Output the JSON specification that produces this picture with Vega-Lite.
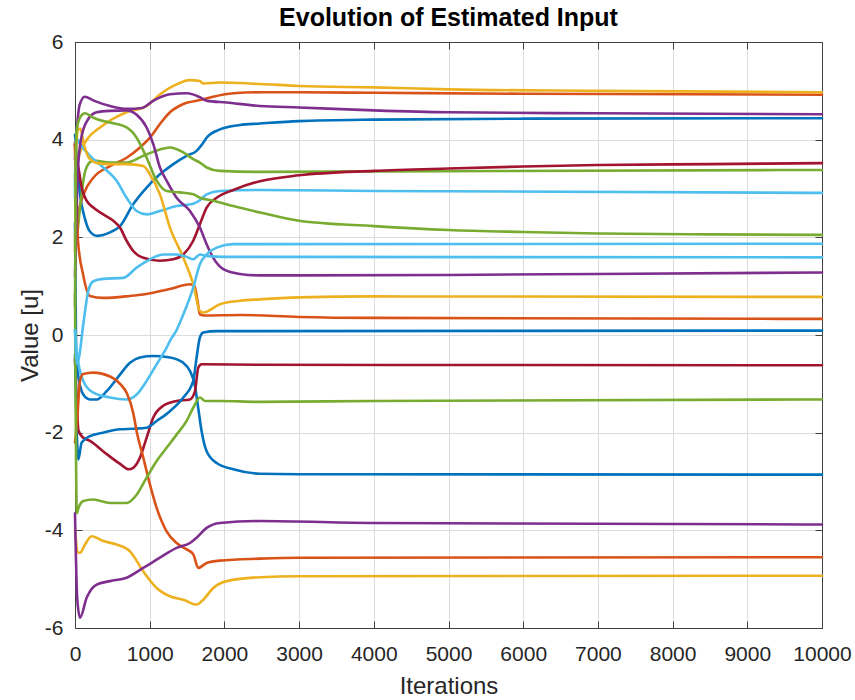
{
"$schema": "https://vega.github.io/schema/vega-lite/v6.json",
"width": 747, "height": 586,
"autosize": {"type": "none"},
"padding": {"left": 75, "top": 42, "right": 33, "bottom": 72},
"background": "white",
"title": {"text": "Evolution of Estimated Input", "fontSize": 25, "fontWeight": "bold", "font": "Liberation Sans", "color": "black", "anchor": "middle", "baseline": "alphabetic", "offset": -20},
"config": {
  "view": {"stroke": null},
  "axis": {"labelFont": "Liberation Sans", "titleFont": "Liberation Sans", "labelFontSize": 21, "titleFontSize": 24, "titleFontWeight": "normal", "labelColor": "#262626", "titleColor": "#262626", "domainColor": "#404040", "domainWidth": 1, "tickColor": "#404040", "tickWidth": 1, "gridColor": "#dcdcdc", "gridWidth": 1}
},
"data": {"values": [
{"s":"s01","x":0,"y":4.1},{"s":"s01","x":30,"y":3.5},{"s":"s01","x":70,"y":2.85},{"s":"s01","x":130,"y":2.4},{"s":"s01","x":200,"y":2.12},{"s":"s01","x":300,"y":2.03},{"s":"s01","x":468,"y":2.1},{"s":"s01","x":602,"y":2.23},{"s":"s01","x":780,"y":2.68},{"s":"s01","x":959,"y":3.02},{"s":"s01","x":1137,"y":3.29},{"s":"s01","x":1316,"y":3.5},{"s":"s01","x":1494,"y":3.67},{"s":"s01","x":1628,"y":3.77},{"s":"s01","x":1700,"y":3.9},{"s":"s01","x":1762,"y":4.04},{"s":"s01","x":1940,"y":4.21},{"s":"s01","x":2208,"y":4.3},{"s":"s01","x":2475,"y":4.33},{"s":"s01","x":3000,"y":4.38},{"s":"s01","x":4000,"y":4.41},{"s":"s01","x":6000,"y":4.43},{"s":"s01","x":10000,"y":4.44},
{"s":"s02","x":0,"y":3.95},{"s":"s02","x":20,"y":2.2},{"s":"s02","x":60,"y":2.6},{"s":"s02","x":134,"y":2.95},{"s":"s02","x":245,"y":3.22},{"s":"s02","x":468,"y":3.46},{"s":"s02","x":691,"y":3.63},{"s":"s02","x":870,"y":3.84},{"s":"s02","x":1003,"y":4.04},{"s":"s02","x":1137,"y":4.32},{"s":"s02","x":1271,"y":4.56},{"s":"s02","x":1450,"y":4.73},{"s":"s02","x":1672,"y":4.81},{"s":"s02","x":1851,"y":4.88},{"s":"s02","x":2119,"y":4.95},{"s":"s02","x":2475,"y":4.97},{"s":"s02","x":3000,"y":4.97},{"s":"s02","x":4000,"y":4.96},{"s":"s02","x":6000,"y":4.94},{"s":"s02","x":10000,"y":4.92},
{"s":"s03","x":0,"y":3.8},{"s":"s03","x":30,"y":3.6},{"s":"s03","x":80,"y":3.8},{"s":"s03","x":178,"y":4.04},{"s":"s03","x":335,"y":4.25},{"s":"s03","x":500,"y":4.42},{"s":"s03","x":690,"y":4.56},{"s":"s03","x":960,"y":4.69},{"s":"s03","x":1140,"y":4.93},{"s":"s03","x":1315,"y":5.1},{"s":"s03","x":1540,"y":5.22},{"s":"s03","x":1670,"y":5.2},{"s":"s03","x":1717,"y":5.15},{"s":"s03","x":1940,"y":5.17},{"s":"s03","x":2475,"y":5.14},{"s":"s03","x":3000,"y":5.1},{"s":"s03","x":4000,"y":5.07},{"s":"s03","x":5000,"y":5.03},{"s":"s03","x":7000,"y":5.0},{"s":"s03","x":10000,"y":4.97},
{"s":"s04","x":0,"y":3.6},{"s":"s04","x":30,"y":4.3},{"s":"s04","x":60,"y":4.7},{"s":"s04","x":130,"y":4.88},{"s":"s04","x":250,"y":4.8},{"s":"s04","x":470,"y":4.69},{"s":"s04","x":700,"y":4.63},{"s":"s04","x":900,"y":4.65},{"s":"s04","x":1050,"y":4.8},{"s":"s04","x":1270,"y":4.93},{"s":"s04","x":1500,"y":4.95},{"s":"s04","x":1670,"y":4.87},{"s":"s04","x":1760,"y":4.8},{"s":"s04","x":2030,"y":4.76},{"s":"s04","x":2475,"y":4.69},{"s":"s04","x":3000,"y":4.66},{"s":"s04","x":4000,"y":4.6},{"s":"s04","x":5000,"y":4.56},{"s":"s04","x":7000,"y":4.54},{"s":"s04","x":10000,"y":4.52},
{"s":"s05","x":0,"y":3.3},{"s":"s05","x":20,"y":2.0},{"s":"s05","x":60,"y":2.5},{"s":"s05","x":111,"y":3.16},{"s":"s05","x":178,"y":3.5},{"s":"s05","x":245,"y":3.57},{"s":"s05","x":468,"y":3.53},{"s":"s05","x":691,"y":3.53},{"s":"s05","x":914,"y":3.67},{"s":"s05","x":1137,"y":3.8},{"s":"s05","x":1271,"y":3.84},{"s":"s05","x":1450,"y":3.74},{"s":"s05","x":1583,"y":3.6},{"s":"s05","x":1672,"y":3.53},{"s":"s05","x":1762,"y":3.43},{"s":"s05","x":1940,"y":3.36},{"s":"s05","x":2475,"y":3.34},{"s":"s05","x":4000,"y":3.35},{"s":"s05","x":10000,"y":3.38},
{"s":"s06","x":0,"y":2.8},{"s":"s06","x":10,"y":4.05},{"s":"s06","x":67,"y":3.91},{"s":"s06","x":200,"y":3.67},{"s":"s06","x":379,"y":3.43},{"s":"s06","x":557,"y":3.16},{"s":"s06","x":691,"y":2.81},{"s":"s06","x":825,"y":2.54},{"s":"s06","x":959,"y":2.47},{"s":"s06","x":1137,"y":2.54},{"s":"s06","x":1360,"y":2.64},{"s":"s06","x":1583,"y":2.69},{"s":"s06","x":1672,"y":2.76},{"s":"s06","x":1762,"y":2.88},{"s":"s06","x":1940,"y":2.95},{"s":"s06","x":2475,"y":2.97},{"s":"s06","x":4000,"y":2.95},{"s":"s06","x":10000,"y":2.91},
{"s":"s07","x":0,"y":3.9},{"s":"s07","x":20,"y":3.6},{"s":"s07","x":45,"y":3.43},{"s":"s07","x":89,"y":3.02},{"s":"s07","x":156,"y":2.75},{"s":"s07","x":245,"y":2.61},{"s":"s07","x":379,"y":2.47},{"s":"s07","x":513,"y":2.34},{"s":"s07","x":602,"y":2.2},{"s":"s07","x":691,"y":1.93},{"s":"s07","x":780,"y":1.72},{"s":"s07","x":914,"y":1.58},{"s":"s07","x":1137,"y":1.52},{"s":"s07","x":1316,"y":1.55},{"s":"s07","x":1450,"y":1.65},{"s":"s07","x":1583,"y":1.93},{"s":"s07","x":1672,"y":2.27},{"s":"s07","x":1762,"y":2.61},{"s":"s07","x":1896,"y":2.81},{"s":"s07","x":2119,"y":2.97},{"s":"s07","x":2475,"y":3.15},{"s":"s07","x":3000,"y":3.27},{"s":"s07","x":4000,"y":3.36},{"s":"s07","x":5000,"y":3.41},{"s":"s07","x":6000,"y":3.45},{"s":"s07","x":7000,"y":3.48},{"s":"s07","x":8500,"y":3.5},{"s":"s07","x":10000,"y":3.52},
{"s":"s08","x":0,"y":2.3},{"s":"s08","x":15,"y":-0.4},{"s":"s08","x":40,"y":-0.8},{"s":"s08","x":70,"y":-1.05},{"s":"s08","x":111,"y":-1.22},{"s":"s08","x":200,"y":-1.32},{"s":"s08","x":290,"y":-1.32},{"s":"s08","x":424,"y":-1.15},{"s":"s08","x":602,"y":-0.81},{"s":"s08","x":736,"y":-0.57},{"s":"s08","x":870,"y":-0.46},{"s":"s08","x":1048,"y":-0.43},{"s":"s08","x":1271,"y":-0.46},{"s":"s08","x":1450,"y":-0.57},{"s":"s08","x":1540,"y":-0.74},{"s":"s08","x":1600,"y":-1.0},{"s":"s08","x":1650,"y":-1.5},{"s":"s08","x":1695,"y":-1.97},{"s":"s08","x":1762,"y":-2.38},{"s":"s08","x":1896,"y":-2.62},{"s":"s08","x":2119,"y":-2.75},{"s":"s08","x":2475,"y":-2.84},{"s":"s08","x":3000,"y":-2.85},{"s":"s08","x":10000,"y":-2.86},
{"s":"s09","x":0,"y":3.9},{"s":"s09","x":20,"y":3.0},{"s":"s09","x":40,"y":1.93},{"s":"s09","x":107,"y":1.25},{"s":"s09","x":200,"y":0.8},{"s":"s09","x":375,"y":0.76},{"s":"s09","x":736,"y":0.8},{"s":"s09","x":914,"y":0.83},{"s":"s09","x":1271,"y":0.94},{"s":"s09","x":1540,"y":1.04},{"s":"s09","x":1600,"y":1.0},{"s":"s09","x":1640,"y":0.7},{"s":"s09","x":1672,"y":0.42},{"s":"s09","x":1717,"y":0.4},{"s":"s09","x":2209,"y":0.41},{"s":"s09","x":3000,"y":0.37},{"s":"s09","x":4000,"y":0.35},{"s":"s09","x":10000,"y":0.33},
{"s":"s10","x":0,"y":1.7},{"s":"s10","x":15,"y":3.8},{"s":"s10","x":40,"y":4.2},{"s":"s10","x":70,"y":4.23},{"s":"s10","x":120,"y":3.9},{"s":"s10","x":200,"y":3.6},{"s":"s10","x":300,"y":3.52},{"s":"s10","x":468,"y":3.5},{"s":"s10","x":691,"y":3.5},{"s":"s10","x":914,"y":3.46},{"s":"s10","x":1003,"y":3.29},{"s":"s10","x":1137,"y":2.88},{"s":"s10","x":1271,"y":2.2},{"s":"s10","x":1450,"y":1.58},{"s":"s10","x":1583,"y":1.04},{"s":"s10","x":1672,"y":0.49},{"s":"s10","x":1717,"y":0.46},{"s":"s10","x":1940,"y":0.63},{"s":"s10","x":2209,"y":0.7},{"s":"s10","x":2475,"y":0.73},{"s":"s10","x":3000,"y":0.77},{"s":"s10","x":4000,"y":0.79},{"s":"s10","x":10000,"y":0.78},
{"s":"s11","x":0,"y":1.2},{"s":"s11","x":20,"y":2.5},{"s":"s11","x":40,"y":3.4},{"s":"s11","x":80,"y":4.0},{"s":"s11","x":160,"y":4.38},{"s":"s11","x":290,"y":4.56},{"s":"s11","x":468,"y":4.59},{"s":"s11","x":691,"y":4.6},{"s":"s11","x":825,"y":4.51},{"s":"s11","x":959,"y":4.25},{"s":"s11","x":1048,"y":3.91},{"s":"s11","x":1137,"y":3.43},{"s":"s11","x":1226,"y":3.16},{"s":"s11","x":1360,"y":2.81},{"s":"s11","x":1539,"y":2.54},{"s":"s11","x":1672,"y":2.2},{"s":"s11","x":1762,"y":1.86},{"s":"s11","x":1851,"y":1.58},{"s":"s11","x":1985,"y":1.35},{"s":"s11","x":2208,"y":1.25},{"s":"s11","x":2475,"y":1.22},{"s":"s11","x":3000,"y":1.22},{"s":"s11","x":5000,"y":1.23},{"s":"s11","x":7000,"y":1.25},{"s":"s11","x":10000,"y":1.28},
{"s":"s12","x":0,"y":0.6},{"s":"s12","x":10,"y":3.5},{"s":"s12","x":20,"y":4.18},{"s":"s12","x":67,"y":4.45},{"s":"s12","x":134,"y":4.54},{"s":"s12","x":245,"y":4.45},{"s":"s12","x":468,"y":4.35},{"s":"s12","x":691,"y":4.25},{"s":"s12","x":825,"y":4.04},{"s":"s12","x":959,"y":3.63},{"s":"s12","x":1093,"y":3.16},{"s":"s12","x":1226,"y":2.95},{"s":"s12","x":1405,"y":2.92},{"s":"s12","x":1583,"y":2.88},{"s":"s12","x":1672,"y":2.81},{"s":"s12","x":1851,"y":2.75},{"s":"s12","x":2119,"y":2.64},{"s":"s12","x":2475,"y":2.51},{"s":"s12","x":3000,"y":2.34},{"s":"s12","x":4000,"y":2.23},{"s":"s12","x":5000,"y":2.15},{"s":"s12","x":6000,"y":2.11},{"s":"s12","x":7000,"y":2.08},{"s":"s12","x":8500,"y":2.06},{"s":"s12","x":10000,"y":2.05},
{"s":"s13","x":0,"y":0.1},{"s":"s13","x":22,"y":-0.33},{"s":"s13","x":111,"y":-0.94},{"s":"s13","x":245,"y":-1.18},{"s":"s13","x":468,"y":-1.28},{"s":"s13","x":691,"y":-1.32},{"s":"s13","x":825,"y":-1.22},{"s":"s13","x":959,"y":-0.94},{"s":"s13","x":1093,"y":-0.6},{"s":"s13","x":1226,"y":-0.26},{"s":"s13","x":1271,"y":-0.12},{"s":"s13","x":1360,"y":0.1},{"s":"s13","x":1450,"y":0.42},{"s":"s13","x":1583,"y":0.97},{"s":"s13","x":1672,"y":1.45},{"s":"s13","x":1762,"y":1.65},{"s":"s13","x":1896,"y":1.79},{"s":"s13","x":2119,"y":1.86},{"s":"s13","x":2475,"y":1.86},{"s":"s13","x":10000,"y":1.87},
{"s":"s14","x":0,"y":-0.5},{"s":"s14","x":20,"y":-1.2},{"s":"s14","x":45,"y":-1.95},{"s":"s14","x":107,"y":-2.1},{"s":"s14","x":200,"y":-2.17},{"s":"s14","x":375,"y":-2.38},{"s":"s14","x":603,"y":-2.64},{"s":"s14","x":720,"y":-2.75},{"s":"s14","x":780,"y":-2.72},{"s":"s14","x":870,"y":-2.51},{"s":"s14","x":959,"y":-2.1},{"s":"s14","x":1048,"y":-1.69},{"s":"s14","x":1182,"y":-1.45},{"s":"s14","x":1360,"y":-1.35},{"s":"s14","x":1539,"y":-1.32},{"s":"s14","x":1606,"y":-1.15},{"s":"s14","x":1650,"y":-0.67},{"s":"s14","x":1695,"y":-0.6},{"s":"s14","x":2475,"y":-0.61},{"s":"s14","x":10000,"y":-0.62},
{"s":"s15","x":0,"y":-0.4},{"s":"s15","x":20,"y":-1.8},{"s":"s15","x":45,"y":-2.55},{"s":"s15","x":89,"y":-2.2},{"s":"s15","x":200,"y":-2.07},{"s":"s15","x":375,"y":-2.0},{"s":"s15","x":603,"y":-1.93},{"s":"s15","x":780,"y":-1.92},{"s":"s15","x":959,"y":-1.9},{"s":"s15","x":1093,"y":-1.76},{"s":"s15","x":1271,"y":-1.56},{"s":"s15","x":1450,"y":-1.28},{"s":"s15","x":1583,"y":-0.94},{"s":"s15","x":1628,"y":-0.46},{"s":"s15","x":1672,"y":-0.05},{"s":"s15","x":1717,"y":0.05},{"s":"s15","x":1896,"y":0.08},{"s":"s15","x":2475,"y":0.08},{"s":"s15","x":10000,"y":0.09},
{"s":"s16","x":0,"y":-2.2},{"s":"s16","x":22,"y":-1.9},{"s":"s16","x":67,"y":-0.94},{"s":"s16","x":110,"y":-0.8},{"s":"s16","x":245,"y":-0.77},{"s":"s16","x":470,"y":-0.85},{"s":"s16","x":603,"y":-1.0},{"s":"s16","x":696,"y":-1.2},{"s":"s16","x":780,"y":-1.6},{"s":"s16","x":825,"y":-1.97},{"s":"s16","x":914,"y":-2.51},{"s":"s16","x":1003,"y":-3.06},{"s":"s16","x":1093,"y":-3.54},{"s":"s16","x":1226,"y":-4.02},{"s":"s16","x":1360,"y":-4.26},{"s":"s16","x":1494,"y":-4.39},{"s":"s16","x":1583,"y":-4.49},{"s":"s16","x":1650,"y":-4.77},{"s":"s16","x":1762,"y":-4.67},{"s":"s16","x":1940,"y":-4.62},{"s":"s16","x":2475,"y":-4.58},{"s":"s16","x":3000,"y":-4.56},{"s":"s16","x":10000,"y":-4.55},
{"s":"s17","x":0,"y":-4.0},{"s":"s17","x":40,"y":-4.45},{"s":"s17","x":67,"y":-4.46},{"s":"s17","x":134,"y":-4.29},{"s":"s17","x":223,"y":-4.12},{"s":"s17","x":379,"y":-4.22},{"s":"s17","x":557,"y":-4.29},{"s":"s17","x":736,"y":-4.43},{"s":"s17","x":914,"y":-4.84},{"s":"s17","x":1093,"y":-5.18},{"s":"s17","x":1271,"y":-5.35},{"s":"s17","x":1450,"y":-5.42},{"s":"s17","x":1628,"y":-5.52},{"s":"s17","x":1717,"y":-5.42},{"s":"s17","x":1851,"y":-5.18},{"s":"s17","x":2030,"y":-5.04},{"s":"s17","x":2475,"y":-4.96},{"s":"s17","x":3000,"y":-4.94},{"s":"s17","x":10000,"y":-4.93},
{"s":"s18","x":0,"y":-3.65},{"s":"s18","x":30,"y":-5.4},{"s":"s18","x":67,"y":-5.79},{"s":"s18","x":156,"y":-5.38},{"s":"s18","x":290,"y":-5.11},{"s":"s18","x":468,"y":-5.04},{"s":"s18","x":691,"y":-4.97},{"s":"s18","x":914,"y":-4.77},{"s":"s18","x":1137,"y":-4.56},{"s":"s18","x":1360,"y":-4.36},{"s":"s18","x":1539,"y":-4.26},{"s":"s18","x":1628,"y":-4.15},{"s":"s18","x":1762,"y":-3.95},{"s":"s18","x":1940,"y":-3.85},{"s":"s18","x":2475,"y":-3.81},{"s":"s18","x":4000,"y":-3.85},{"s":"s18","x":10000,"y":-3.88},
{"s":"s19","x":0,"y":0.85},{"s":"s19","x":25,"y":-3.65},{"s":"s19","x":45,"y":-3.55},{"s":"s19","x":111,"y":-3.4},{"s":"s19","x":245,"y":-3.37},{"s":"s19","x":468,"y":-3.44},{"s":"s19","x":691,"y":-3.44},{"s":"s19","x":825,"y":-3.27},{"s":"s19","x":959,"y":-2.92},{"s":"s19","x":1093,"y":-2.58},{"s":"s19","x":1226,"y":-2.31},{"s":"s19","x":1360,"y":-2.04},{"s":"s19","x":1494,"y":-1.76},{"s":"s19","x":1583,"y":-1.49},{"s":"s19","x":1672,"y":-1.28},{"s":"s19","x":1739,"y":-1.35},{"s":"s19","x":1940,"y":-1.35},{"s":"s19","x":2475,"y":-1.37},{"s":"s19","x":4000,"y":-1.35},{"s":"s19","x":10000,"y":-1.32},
{"s":"s20","x":0,"y":0.1},{"s":"s20","x":30,"y":-0.6},{"s":"s20","x":60,"y":-0.4},{"s":"s20","x":111,"y":0.22},{"s":"s20","x":178,"y":0.9},{"s":"s20","x":245,"y":1.1},{"s":"s20","x":375,"y":1.15},{"s":"s20","x":647,"y":1.17},{"s":"s20","x":825,"y":1.38},{"s":"s20","x":1003,"y":1.55},{"s":"s20","x":1182,"y":1.65},{"s":"s20","x":1360,"y":1.65},{"s":"s20","x":1494,"y":1.6},{"s":"s20","x":1583,"y":1.55},{"s":"s20","x":1672,"y":1.65},{"s":"s20","x":1762,"y":1.62},{"s":"s20","x":1985,"y":1.6},{"s":"s20","x":2475,"y":1.6},{"s":"s20","x":10000,"y":1.59}
]},
"layer": [
  {
    "mark": {"type": "line", "interpolate": "monotone", "strokeWidth": 2.6, "strokeCap": "round", "strokeJoin": "round"},
    "encoding": {
      "x": {"field": "x", "type": "quantitative", "scale": {"domain": [0, 10000], "nice": false, "zero": false},
            "axis": {"orient": "bottom", "title": "Iterations", "values": [0,1000,2000,3000,4000,5000,6000,7000,8000,9000,10000], "grid": true, "tickSize": -7, "labelPadding": 22, "labelExpr": "'' + datum.value", "labelFlush": false, "labelOverlap": false, "titleY": 65, "titleBaseline": "alphabetic"}},
      "y": {"field": "y", "type": "quantitative", "scale": {"domain": [-6, 6], "nice": false, "zero": false},
            "axis": {"orient": "left", "title": "Value [u]", "values": [-6,-4,-2,0,2,4,6], "grid": true, "tickSize": -7, "labelPadding": 19, "labelExpr": "'' + datum.value", "labelFlush": false, "labelOverlap": false, "titleX": -38, "titleY": 293, "titleAngle": -90, "titleBaseline": "alphabetic", "titleAlign": "center"}},
      "color": {"field": "s", "type": "nominal", "legend": null,
        "scale": {"domain": ["s01","s02","s03","s04","s05","s06","s07","s08","s09","s10","s11","s12","s13","s14","s15","s16","s17","s18","s19","s20"],
                  "range": ["#0072BD","#D95319","#EDB120","#7E2F8E","#77AC30","#4DBEEE","#A2142F","#0072BD","#D95319","#EDB120","#7E2F8E","#77AC30","#4DBEEE","#A2142F","#0072BD","#D95319","#EDB120","#7E2F8E","#77AC30","#4DBEEE"]}}
    }
  },
  {
    "mark": {"type": "point", "opacity": 0},
    "encoding": {
      "x": {"field": "x", "type": "quantitative", "axis": {"orient": "top", "title": null, "labels": false, "grid": false, "values": [0,1000,2000,3000,4000,5000,6000,7000,8000,9000,10000], "tickSize": -7, "minExtent": 0, "maxExtent": 0}},
      "y": {"field": "y", "type": "quantitative", "axis": {"orient": "right", "title": null, "labels": false, "grid": false, "values": [-6,-4,-2,0,2,4,6], "tickSize": -7, "minExtent": 0, "maxExtent": 0}}
    }
  }
],
"resolve": {"axis": {"x": "independent", "y": "independent"}}
}
